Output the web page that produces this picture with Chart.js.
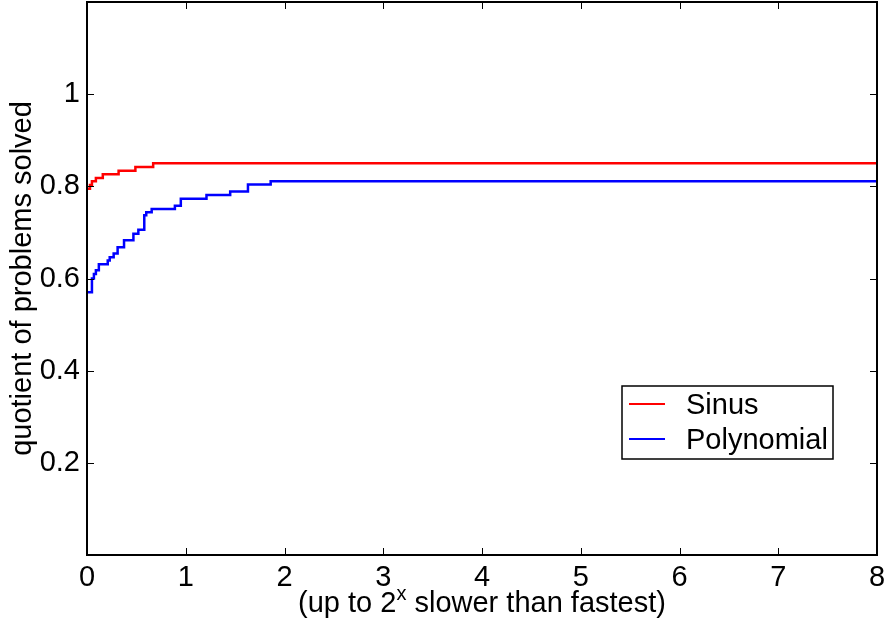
<!DOCTYPE html>
<html>
<head>
<meta charset="utf-8">
<script src="https://cdn.jsdelivr.net/npm/chart.js@4/dist/chart.umd.min.js"></script>
<style>
  html, body { margin: 0; padding: 0; background: #fff; }
  #wrap { width: 884px; height: 628px; }
</style>
</head>
<body>
<div id="wrap"><canvas id="perf"></canvas></div>
<script>
// performance profile: share of problems solved within 2^x of the fastest
const sinusX = [0, 0.03, 0.05, 0.09, 0.16, 0.32, 0.49, 0.67, 8]
const sinusY = [0.795, 0.803, 0.811, 0.818, 0.826, 0.834, 0.842, 0.85, 0.85]

const polyX = [0, 0.05, 0.07, 0.09, 0.12, 0.21, 0.23, 0.27, 0.31, 0.375, 0.47, 0.52,
  0.58, 0.6, 0.655, 0.89, 0.95, 1.21, 1.45, 1.63, 1.86, 8]
const polyY = [0.57, 0.6, 0.61, 0.618, 0.631, 0.639, 0.646, 0.654, 0.668, 0.683, 0.697, 0.706,
  0.737, 0.744, 0.751, 0.758, 0.773, 0.781, 0.789, 0.804, 0.811, 0.811]

const xTicks = [0, 1, 2, 3, 4, 5, 6, 7, 8]
const yTicks = [0.2, 0.4, 0.6, 0.8, 1]
const seriesLabels = ['Sinus', 'Polynomial']

const FONT = '"Liberation Sans", Arial, Helvetica, sans-serif'
const toPoints = (xs, ys) => xs.map((x, i) => ({ x: x, y: ys[i] }))

// box around the axes plus inward tick marks on all four sides
const frame = {
  id: 'frame',
  afterDatasetsDraw(chart) {
    const { ctx, chartArea: a, scales } = chart
    const len = 7
    ctx.save()
    ctx.strokeStyle = '#000'
    ctx.lineWidth = 1
    ctx.beginPath()
    xTicks.forEach((v) => {
      const px = Math.round(scales.x.getPixelForValue(v)) + 0.5
      ctx.moveTo(px, a.bottom); ctx.lineTo(px, a.bottom - len)
      ctx.moveTo(px, a.top); ctx.lineTo(px, a.top + len)
    })
    yTicks.forEach((v) => {
      const py = Math.round(scales.y.getPixelForValue(v)) + 0.5
      ctx.moveTo(a.left, py); ctx.lineTo(a.left + len, py)
      ctx.moveTo(a.right, py); ctx.lineTo(a.right - len, py)
    })
    ctx.stroke()
    ctx.lineWidth = 2
    ctx.strokeRect(a.left, a.top, a.right - a.left, a.bottom - a.top)

    // x axis title with a superscript exponent
    const big = '29px ' + FONT
    const small = '20px ' + FONT
    const parts = [['(up to 2', big, 0], ['x', small, -12], [' slower than fastest)', big, 0]]
    let total = 0
    parts.forEach((p) => { ctx.font = p[1]; total += ctx.measureText(p[0]).width })
    let cx = (a.left + a.right) / 2 - total / 2
    ctx.fillStyle = '#000'
    ctx.textBaseline = 'alphabetic'
    ctx.textAlign = 'left'
    parts.forEach((p) => {
      ctx.font = p[1]
      ctx.fillText(p[0], cx, 612 + p[2])
      cx += ctx.measureText(p[0]).width
    })

    // legend
    const lx = 622, ly = 386, lw = 211, lh = 73
    ctx.fillStyle = '#fff'
    ctx.fillRect(lx, ly, lw, lh)
    ctx.lineWidth = 1.5
    ctx.strokeStyle = '#000'
    ctx.strokeRect(lx, ly, lw, lh)
    ctx.font = big
    chart.data.datasets.forEach((ds, i) => {
      const y = ly + 18 + i * 35
      ctx.strokeStyle = ds.borderColor
      ctx.lineWidth = 2
      ctx.beginPath()
      ctx.moveTo(lx + 7, y); ctx.lineTo(lx + 43, y)
      ctx.stroke()
      ctx.fillStyle = '#000'
      ctx.textBaseline = 'alphabetic'
      ctx.fillText(ds.label, lx + 64, y + 10)
    })
    ctx.restore()
  },
}

new Chart(document.getElementById('perf'), {
  type: 'line',
  data: {
    datasets: [
      {
        label: seriesLabels[0],
        data: toPoints(sinusX, sinusY),
        borderColor: '#ff0000',
        borderWidth: 2.5,
        stepped: 'before',
        pointRadius: 0,
      },
      {
        label: seriesLabels[1],
        data: toPoints(polyX, polyY),
        borderColor: '#0000ff',
        borderWidth: 2.5,
        stepped: 'before',
        pointRadius: 0,
      },
    ],
  },
  options: {
    responsive: true,
    maintainAspectRatio: false,
    animation: false,
    layout: { padding: { top: 2, right: 7, left: 0, bottom: 0 } },
    plugins: { legend: { display: false }, tooltip: { enabled: false } },
    scales: {
      x: {
        type: 'linear',
        min: 0,
        max: 8,
        afterBuildTicks: (s) => { s.ticks = xTicks.map((v) => ({ value: v })) },
        afterFit: (s) => {
          s.height = 73
          s.paddingLeft = 0
          s.paddingRight = 0
        },
        grid: { display: false, drawTicks: false, tickLength: 0 },
        border: { display: false },
        ticks: { color: '#000', padding: 6, maxRotation: 0, font: { family: FONT, size: 29 } },
      },
      y: {
        type: 'linear',
        min: 0,
        max: 1.2,
        afterBuildTicks: (s) => { s.ticks = yTicks.map((v) => ({ value: v })) },
        afterFit: (s) => {
          s.width = 87
          s.paddingTop = 0
          s.paddingBottom = 0
        },
        grid: { display: false, drawTicks: false, tickLength: 0 },
        border: { display: false },
        ticks: {
          color: '#000',
          padding: 7,
          font: { family: FONT, size: 29 },
          callback: (v) => String(v),
        },
        title: {
          display: true,
          text: 'quotient of problems solved',
          color: '#000',
          padding: { top: 6, bottom: 0 },
          font: { family: FONT, size: 29 },
        },
      },
    },
  },
  plugins: [frame],
})
</script>
</body>
</html>
